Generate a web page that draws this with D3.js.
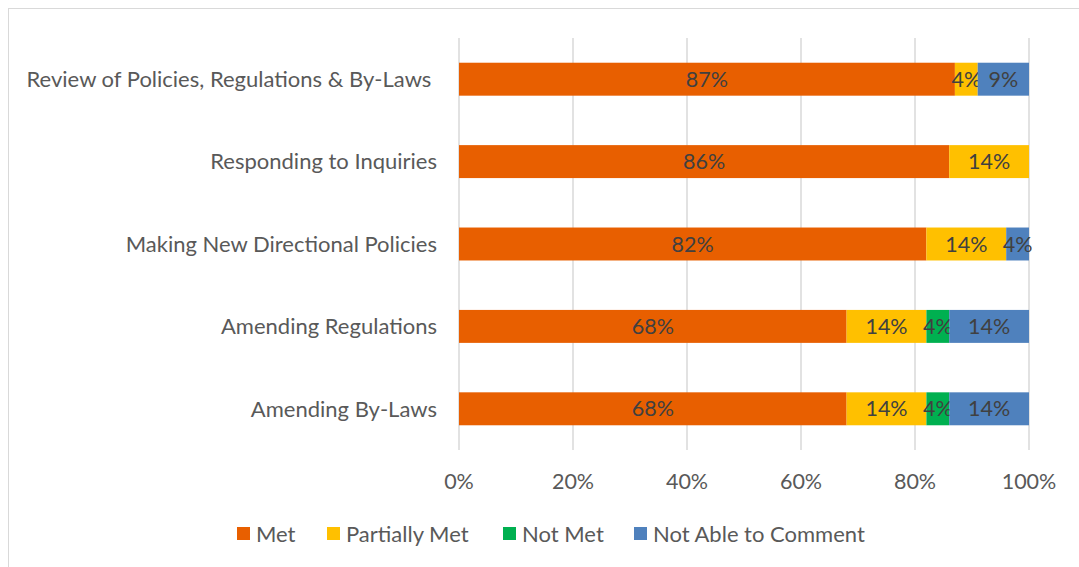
<!DOCTYPE html>
<html>
<head>
<meta charset="utf-8">
<script src="https://cdn.jsdelivr.net/npm/d3@7"></script>
<style>
  body { margin: 0; background: #fff; }
  svg { display: block; font-family: Lato, "Open Sans", sans-serif; }
</style>
</head>
<body>
<svg id="chart" width="1079" height="567"></svg>
<script>
const categories = [
  'Review of Policies, Regulations & By-Laws ',
  'Responding to Inquiries',
  'Making New Directional Policies',
  'Amending Regulations',
  'Amending By-Laws'
];
const seriesNames = ['Met', 'Partially Met', 'Not Met', 'Not Able to Comment'];
const seriesColors = ['#E85F00', '#FFC000', '#00B050', '#4F81BD'];
const met = [87, 86, 82, 68, 68];
const partiallyMet = [4, 14, 14, 14, 14];
const notMet = [0, 0, 0, 4, 4];
const notAble = [9, 0, 4, 14, 14];
const tickValues = [0, 20, 40, 60, 80, 100];

const rows = categories.map((c, i) => ({
  category: c,
  'Met': met[i],
  'Partially Met': partiallyMet[i],
  'Not Met': notMet[i],
  'Not Able to Comment': notAble[i]
}));

const svg = d3.select('#chart');
const textColor = '#595959';

// outer chart border
svg.append('rect')
  .attr('x', 8.5).attr('y', 8.5)
  .attr('width', 1090).attr('height', 600)
  .attr('fill', 'none')
  .attr('stroke', '#d9d9d9');

const x = d3.scaleLinear().domain([0, 100]).range([459, 1029]);
const y = d3.scaleBand().domain(categories).range([38, 450]).paddingInner(0.6).paddingOuter(0.3);

// gridlines
svg.append('g')
  .selectAll('line')
  .data(tickValues)
  .join('line')
  .attr('x1', d => x(d)).attr('x2', d => x(d))
  .attr('y1', 38).attr('y2', 450)
  .attr('stroke', '#d9d9d9')
  .attr('stroke-width', 1.5);

// x axis labels
svg.append('g')
  .selectAll('text')
  .data(tickValues)
  .join('text')
  .attr('x', d => x(d))
  .attr('y', 481)
  .attr('dy', '0.35em')
  .attr('text-anchor', 'middle')
  .attr('fill', textColor)
  .style('font-size', '21.5px')
  .text(d => `${d}%`);

// category labels
svg.append('g')
  .selectAll('text')
  .data(categories)
  .join('text')
  .attr('x', 437)
  .attr('y', d => y(d) + y.bandwidth() / 2)
  .attr('dy', '0.35em')
  .attr('text-anchor', 'end')
  .attr('fill', textColor)
  .style('font-size', '22px')
  .style('white-space', 'pre')
  .text(d => d);

const stack = d3.stack().keys(seriesNames);
const layers = stack(rows);

const groups = svg.append('g')
  .selectAll('g')
  .data(layers)
  .join('g')
  .attr('fill', (d, i) => seriesColors[i]);

groups.selectAll('rect')
  .data(d => d)
  .join('rect')
  .attr('x', d => x(d[0]))
  .attr('y', d => y(d.data.category))
  .attr('width', d => x(d[1]) - x(d[0]))
  .attr('height', y.bandwidth());

// data labels
groups.selectAll('text')
  .data(d => d.filter(s => s[1] - s[0] > 0))
  .join('text')
  .attr('x', d => (x(d[0]) + x(d[1])) / 2)
  .attr('y', d => y(d.data.category) + y.bandwidth() / 2)
  .attr('dy', '0.35em')
  .attr('text-anchor', 'middle')
  .attr('fill', '#404040')
  .style('font-size', '21.5px')
  .text(d => `${d[1] - d[0]}%`);

// legend
const legendX = [237, 327, 503, 634];
const legend = svg.append('g')
  .selectAll('g')
  .data(seriesNames)
  .join('g')
  .attr('transform', (d, i) => `translate(${legendX[i]},533)`);

legend.append('rect')
  .attr('x', 0).attr('y', -6)
  .attr('width', 13).attr('height', 13)
  .attr('fill', (d, i) => seriesColors[i]);

legend.append('text')
  .attr('x', 19)
  .attr('y', 1)
  .attr('dy', '0.35em')
  .attr('fill', textColor)
  .style('font-size', '22px')
  .text(d => d);
</script>
</body>
</html>
